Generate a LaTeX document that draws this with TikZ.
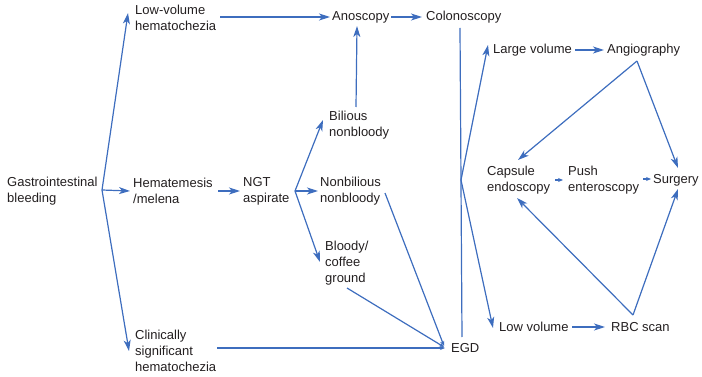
\documentclass[tikz,border=0pt]{standalone}
\usepackage{fontspec}
\setmainfont{Liberation Sans}
\usetikzlibrary{arrows.meta, calc}
\definecolor{flowblue}{HTML}{3D6DBE}
\definecolor{textgray}{HTML}{231F20}

\begin{document}
\begin{tikzpicture}[x=1pt, y=-1pt]
\tikzstyle{step text} = [anchor=west, inner sep=0pt, align=left, text=textgray, font=\fontsize{13}{16}\selectfont]
\tikzstyle{flow} = [draw=flowblue, line width=1.2pt, -{Stealth[length=11pt, width=7pt, inset=3pt]}]
\tikzstyle{smallflow} = [draw=flowblue, line width=1.2pt, -{Stealth[length=5pt, width=4pt, inset=1.5pt]}]
\tikzstyle{plainflow} = [draw=flowblue, line width=1.2pt]

\useasboundingbox (0,0) rectangle (702,377);

% left part
\node (gib) [step text] at (7,191) {Gastrointestinal\\bleeding};
\node (lowvol) [step text] at (135,18) {Low-volume\\hematochezia};
\node (hemat) [step text] at (133,191) {Hematemesis\\/melena};
\node (ngt) [step text] at (243,191) {NGT\\aspirate};
\node (clin) [step text] at (135,351) {Clinically\\significant\\hematochezia};

% middle part
\node (anos) [step text] at (332,17) {Anoscopy};
\node (colon) [step text] at (426,17) {Colonoscopy};
\node (bil) [step text] at (329,125) {Bilious\\nonbloody};
\node (nonbil) [step text] at (320,191) {Nonbilious\\nonbloody};
\node (bloody) [step text] at (325,263) {Bloody/\\coffee\\ground};
\node (egd) [step text] at (451,348) {EGD};

% right part
\node (large) [step text] at (493,50) {Large volume};
\node (angio) [step text] at (607,50) {Angiography};
\node (caps) [step text] at (487,180) {Capsule\\endoscopy};
\node (push) [step text] at (568,180) {Push\\enteroscopy};
\node (surg) [step text] at (653,180) {Surgery};
\node (lowv) [step text] at (499,327) {Low volume};
\node (rbc) [step text] at (611,327) {RBC scan};

% branch points
\coordinate (gibfork) at ($(gib.west)+(95,-1)$);
\coordinate (ngtfork) at ($(ngt.west)+(52,0)$);
\coordinate (egdfork) at ($(colon.west)+(35,163)$);
\coordinate (angiofork) at ($(angio.west)+(30,11)$);
\coordinate (rbcfork) at ($(rbc.west)+(22,-12)$);

\draw[flow] (gibfork) -- ($(lowvol.west)+(-7,-5)$);
\draw[flow] (gibfork) -- ($(hemat.west)+(-3,0)$);
\draw[flow] (gibfork) -- ($(clin.west)+(-6,0)$);

\draw[flow] ($(lowvol.west)+(85,-1)$) -- ($(anos.west)+(-2,0)$);
\draw[flow] ($(anos.west)+(59,0)$) -- ($(colon.west)+(-4,0)$);
\draw[flow] ($(bil.west)+(27,-18)$) -- ($(anos.west)+(25,9)$);

\draw[flow] ($(hemat.west)+(85,0)$) -- ($(ngt.west)+(-3,0)$);
\draw[flow] (ngtfork) -- ($(bil.west)+(-6,-5)$);
\draw[flow] (ngtfork) -- ($(nonbil.west)+(-2,0)$);
\draw[flow] (ngtfork) -- ($(bloody.west)+(-5,-1)$);

\draw[smallflow] ($(clin.west)+(82,-3)$) -- ($(egd.west)+(-6,0)$);
\draw[smallflow] ($(nonbil.west)+(65,2)$) -- ($(egd.west)+(-7,-2)$);
\draw[smallflow] ($(bloody.west)+(22,25)$) -- ($(egd.west)+(-7,-1)$);

\draw[plainflow] ($(colon.west)+(34,11)$) -- ($(egd.west)+(11,-11)$);
\draw[flow] (egdfork) -- ($(large.west)+(-5,-5)$);
\draw[flow] (egdfork) -- ($(lowv.west)+(-6,1)$);

\draw[flow] ($(large.west)+(82,0)$) -- ($(angio.west)+(-3,0)$);
\draw[flow] (angiofork) -- ($(caps.west)+(31,-20)$);
\draw[flow] (angiofork) -- ($(surg.west)+(25,-12)$);
\draw[smallflow] ($(caps.west)+(68,0)$) -- ($(push.west)+(-5,0)$);
\draw[smallflow] ($(push.west)+(75,-1)$) -- ($(surg.west)+(-2,-1)$);

\draw[flow] ($(lowv.west)+(73,0)$) -- ($(rbc.west)+(-6,0)$);
\draw[flow] (rbcfork) -- ($(caps.west)+(30,18)$);
\draw[flow] (rbcfork) -- ($(surg.west)+(25,9)$);

\end{tikzpicture}
\end{document}
